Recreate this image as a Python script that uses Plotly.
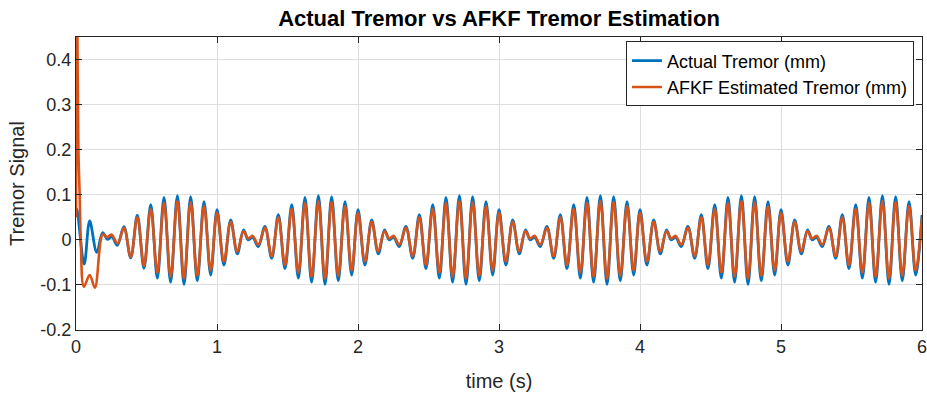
import plotly.graph_objects as go

# ---- data (extrema of each oscillation) ----
t_actual = [
    0.000, 0.006, 0.058, 0.097, 0.147, 0.189, 0.224, 0.254, 0.293, 0.340, 0.388, 0.435, 0.482,
    0.530, 0.577, 0.624, 0.671, 0.719, 0.766, 0.813, 0.860, 0.908, 0.955,
    1.000, 1.049, 1.097, 1.144, 1.188, 1.222, 1.252, 1.293, 1.340, 1.388, 1.435, 1.482,
    1.530, 1.577, 1.624, 1.671, 1.719, 1.766, 1.813, 1.860, 1.908, 1.955,
    2.000, 2.049, 2.097, 2.144, 2.188, 2.222, 2.252, 2.293, 2.340, 2.388, 2.435, 2.482,
    2.530, 2.577, 2.624, 2.671, 2.719, 2.766, 2.813, 2.860, 2.908, 2.955,
    3.000, 3.049, 3.097, 3.144, 3.188, 3.222, 3.252, 3.293, 3.340, 3.388, 3.435, 3.482,
    3.530, 3.577, 3.624, 3.671, 3.719, 3.766, 3.813, 3.860, 3.908, 3.955,
    4.000, 4.049, 4.097, 4.144, 4.188, 4.222, 4.252, 4.293, 4.340, 4.388, 4.435, 4.482,
    4.530, 4.577, 4.624, 4.671, 4.719, 4.766, 4.813, 4.860, 4.908, 4.955,
    5.000, 5.049, 5.097, 5.144, 5.188, 5.222, 5.252, 5.293, 5.340, 5.388, 5.435, 5.482,
    5.530, 5.577, 5.624, 5.671, 5.719, 5.766, 5.813, 5.860, 5.908, 5.955,
    6.000,
]
y_actual = [
    0.062, 0.068, -0.054, 0.042, -0.028, 0.016, 0.001, 0.007, -0.012, 0.029, -0.040, 0.055, -0.063,
    0.078, -0.085, 0.094, -0.094, 0.098, -0.099, 0.096, -0.091, 0.085, -0.078,
    0.067, -0.056, 0.044, -0.031, 0.022, 0.000, 0.006, -0.015, 0.030, -0.041, 0.056, -0.064,
    0.078, -0.085, 0.094, -0.094, 0.098, -0.099, 0.096, -0.091, 0.085, -0.078,
    0.067, -0.056, 0.044, -0.031, 0.022, 0.000, 0.006, -0.015, 0.030, -0.041, 0.056, -0.064,
    0.078, -0.085, 0.094, -0.094, 0.098, -0.099, 0.096, -0.091, 0.085, -0.078,
    0.067, -0.056, 0.044, -0.031, 0.022, 0.000, 0.006, -0.015, 0.030, -0.041, 0.056, -0.064,
    0.078, -0.085, 0.094, -0.094, 0.098, -0.099, 0.096, -0.091, 0.085, -0.078,
    0.067, -0.056, 0.044, -0.031, 0.022, 0.000, 0.006, -0.015, 0.030, -0.041, 0.056, -0.064,
    0.078, -0.085, 0.094, -0.094, 0.098, -0.099, 0.096, -0.091, 0.085, -0.078,
    0.067, -0.056, 0.044, -0.031, 0.022, 0.000, 0.006, -0.015, 0.030, -0.041, 0.056, -0.064,
    0.078, -0.085, 0.094, -0.094, 0.098, -0.099, 0.096, -0.091, 0.085, -0.078,
    0.055,
]

t_afkf = [
    0.000, 0.007, 0.017, 0.026, 0.034, 0.056, 0.097, 0.134, 0.190, 0.222, 0.252, 0.295, 0.340, 0.388, 0.435, 0.482,
    0.530, 0.577, 0.624, 0.671, 0.719, 0.766, 0.813, 0.860, 0.908, 0.955,
    1.000, 1.049, 1.097, 1.144, 1.188, 1.222, 1.252, 1.293, 1.340, 1.388, 1.435, 1.482,
    1.530, 1.577, 1.624, 1.671, 1.719, 1.766, 1.813, 1.860, 1.908, 1.955,
    2.000, 2.049, 2.097, 2.144, 2.188, 2.222, 2.252, 2.293, 2.340, 2.388, 2.435, 2.482,
    2.530, 2.577, 2.624, 2.671, 2.719, 2.766, 2.813, 2.860, 2.908, 2.955,
    3.000, 3.049, 3.097, 3.144, 3.188, 3.222, 3.252, 3.293, 3.340, 3.388, 3.435, 3.482,
    3.530, 3.577, 3.624, 3.671, 3.719, 3.766, 3.813, 3.860, 3.908, 3.955,
    4.000, 4.049, 4.097, 4.144, 4.188, 4.222, 4.252, 4.293, 4.340, 4.388, 4.435, 4.482,
    4.530, 4.577, 4.624, 4.671, 4.719, 4.766, 4.813, 4.860, 4.908, 4.955,
    5.000, 5.049, 5.097, 5.144, 5.188, 5.222, 5.252, 5.293, 5.340, 5.388, 5.435, 5.482,
    5.530, 5.577, 5.624, 5.671, 5.719, 5.766, 5.813, 5.860, 5.908, 5.955,
    6.000,
]
y_afkf = [
    0.050, 0.560, 0.200, 0.100, 0.000, -0.104, -0.078, -0.106, 0.012, 0.006, 0.012, -0.008, 0.027, -0.038, 0.050, -0.058,
    0.069, -0.073, 0.082, -0.082, 0.086, -0.086, 0.084, -0.080, 0.075, -0.068,
    0.060, -0.048, 0.040, -0.026, 0.019, 0.003, 0.009, -0.011, 0.027, -0.036, 0.050, -0.056,
    0.069, -0.073, 0.082, -0.082, 0.086, -0.086, 0.084, -0.080, 0.075, -0.068,
    0.060, -0.048, 0.040, -0.026, 0.019, 0.003, 0.009, -0.011, 0.027, -0.036, 0.050, -0.056,
    0.069, -0.073, 0.082, -0.082, 0.086, -0.086, 0.084, -0.080, 0.075, -0.068,
    0.060, -0.048, 0.040, -0.026, 0.019, 0.003, 0.009, -0.011, 0.027, -0.036, 0.050, -0.056,
    0.069, -0.073, 0.082, -0.082, 0.086, -0.086, 0.084, -0.080, 0.075, -0.068,
    0.060, -0.048, 0.040, -0.026, 0.019, 0.003, 0.009, -0.011, 0.027, -0.036, 0.050, -0.056,
    0.069, -0.073, 0.082, -0.082, 0.086, -0.086, 0.084, -0.080, 0.075, -0.068,
    0.060, -0.048, 0.040, -0.026, 0.019, 0.003, 0.009, -0.011, 0.027, -0.036, 0.050, -0.056,
    0.069, -0.073, 0.082, -0.082, 0.086, -0.086, 0.084, -0.080, 0.075, -0.068,
    0.050,
]

x_ticks = [0, 1, 2, 3, 4, 5, 6]
x_tick_labels = ["0", "1", "2", "3", "4", "5", "6"]
y_ticks = [-0.2, -0.1, 0, 0.1, 0.2, 0.3, 0.4]
y_tick_labels = ["-0.2", "-0.1", "0", "0.1", "0.2", "0.3", "0.4"]

FONT = "Liberation Sans, Arial, Helvetica, sans-serif"
AX = "#262626"

fig = go.Figure()
fig.add_trace(go.Scatter(
    x=t_actual, y=y_actual, mode="lines", name="Actual Tremor (mm)",
    line=dict(color="#0072BD", width=2.8, shape="spline", smoothing=1.0),
))
fig.add_trace(go.Scatter(
    x=t_afkf, y=y_afkf, mode="lines", name="AFKF Estimated Tremor (mm)",
    line=dict(color="#D95319", width=2.6, shape="spline", smoothing=1.0),
))

axis_common = dict(
    showline=True, linecolor=AX, linewidth=1, mirror="ticks",
    ticks="inside", ticklen=6, tickcolor=AX, tickwidth=1,
    showgrid=True, gridcolor="#dedede", gridwidth=1, zeroline=False,
    tickfont=dict(family=FONT, size=18, color=AX),
    automargin=False, ticklabeloverflow="allow",
)

fig.update_layout(
    width=927, height=396,
    margin=dict(l=76, r=5, t=37, b=66),
    paper_bgcolor="white", plot_bgcolor="white",
    font=dict(family=FONT, color=AX),
    title=dict(
        text="<b>Actual Tremor vs AFKF Tremor Estimation</b>",
        x=0.5, xref="paper", xanchor="center",
        y=1 - 18 / 396, yref="container", yanchor="middle",
        font=dict(family=FONT, size=22, color="#000000"),
    ),
    xaxis=dict(
        range=[0, 6], tickvals=x_ticks, ticktext=x_tick_labels,
        title=dict(text="time (s)", font=dict(family=FONT, size=20, color=AX), standoff=18),
        **axis_common,
    ),
    yaxis=dict(
        range=[-0.2, 0.45], tickvals=y_ticks, ticktext=y_tick_labels,
        title=dict(text="Tremor Signal", font=dict(family=FONT, size=20, color=AX), standoff=10),
        **axis_common,
    ),
    legend=dict(
        x=0.9905, y=0.985, xanchor="right", yanchor="top",
        bgcolor="white", bordercolor=AX, borderwidth=1,
        font=dict(family=FONT, size=18, color="#000000"),
        tracegroupgap=0, itemwidth=30,
    ),
    showlegend=True,
)

fig.write_html("out.html")
